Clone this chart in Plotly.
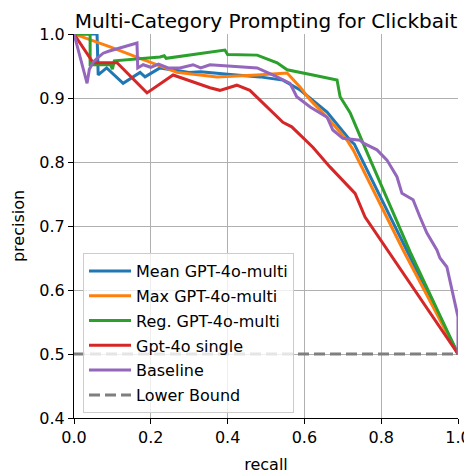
import plotly.graph_objects as go

# ---- data ----
mean_x = [0, 0.06, 0.063, 0.085, 0.128, 0.172, 0.185, 0.224, 0.30, 0.33, 0.40, 0.484, 0.544, 0.589, 0.659, 0.719, 0.73, 1.0]
mean_y = [1.0, 1.0, 0.936, 0.947, 0.923, 0.94, 0.933, 0.947, 0.94, 0.941, 0.937, 0.933, 0.928, 0.9125, 0.878, 0.834, 0.828, 0.5]

max_x = [0, 0.094, 0.172, 0.268, 0.328, 0.372, 0.477, 0.555, 0.589, 0.615, 0.659, 0.711, 0.727, 0.857, 1.0]
max_y = [1.0, 0.98, 0.962, 0.94, 0.936, 0.933, 0.936, 0.939, 0.917, 0.897, 0.87, 0.834, 0.819, 0.6625, 0.5]

reg_x = [0, 0.042, 0.042, 0.095, 0.1, 0.105, 0.224, 0.235, 0.24, 0.354, 0.393, 0.40, 0.477, 0.529, 0.555,
         0.622, 0.685, 0.693, 0.719, 0.753, 0.875, 1.0]
reg_y = [1.0, 1.0, 0.952, 0.952, 0.945, 0.958, 0.964, 0.966, 0.962, 0.972, 0.975, 0.968, 0.967, 0.955, 0.944,
         0.936, 0.928, 0.902, 0.877, 0.829, 0.66, 0.5]

single_x = [0, 0.05, 0.112, 0.19, 0.258, 0.354, 0.38, 0.424, 0.458, 0.544, 0.567, 0.622, 0.667, 0.732, 0.758, 1.0]
single_y = [1.0, 0.955, 0.955, 0.908, 0.936, 0.916, 0.912, 0.92, 0.912, 0.862, 0.855, 0.823, 0.792, 0.751, 0.714, 0.5]

base_x = [0, 0.034, 0.04, 0.05, 0.06, 0.076, 0.09, 0.12, 0.14, 0.164, 0.166, 0.18, 0.2, 0.22, 0.245, 0.276,
          0.31, 0.33, 0.354, 0.414, 0.477, 0.529, 0.5625, 0.58, 0.615, 0.659, 0.674, 0.7, 0.745, 0.755,
          0.789, 0.815, 0.841, 0.854, 0.883, 0.901, 0.919, 0.945, 0.953, 0.971, 0.987, 1.0, 1.0]
base_y = [1.0, 0.923, 0.945, 0.956, 0.962, 0.97, 0.973, 0.978, 0.982, 0.986, 0.947, 0.952, 0.948, 0.953,
          0.947, 0.947, 0.952, 0.947, 0.952, 0.949, 0.947, 0.933, 0.923, 0.902, 0.886, 0.87, 0.85, 0.837,
          0.834, 0.829, 0.819, 0.803, 0.777, 0.751, 0.741, 0.714, 0.689, 0.6625, 0.65, 0.636, 0.595, 0.558, 0.5]

lower_x = [0, 1]
lower_y = [0.5, 0.5]

x_ticks = [0.0, 0.2, 0.4, 0.6, 0.8, 1.0]
y_ticks = [0.4, 0.5, 0.6, 0.7, 0.8, 0.9, 1.0]

series = [
    ("Mean GPT-4o-multi", mean_x, mean_y, "#1f77b4", "solid"),
    ("Max GPT-4o-multi", max_x, max_y, "#ff7f0e", "solid"),
    ("Reg. GPT-4o-multi", reg_x, reg_y, "#2ca02c", "solid"),
    ("Gpt-4o single", single_x, single_y, "#d62728", "solid"),
    ("Baseline", base_x, base_y, "#9467bd", "solid"),
    ("Lower Bound", lower_x, lower_y, "#7f7f7f", "11px,5px"),
]

fig = go.Figure()
for i, (name, xs, ys, color, dash) in enumerate(series):
    fig.add_trace(go.Scatter(
        x=xs, y=ys, mode="lines", name=name, legendgroup=f"g{i}",
        line=dict(color=color, width=3, dash=dash),
    ))

# The page body has an 8px default margin, so the figure is sized/offset to compensate.
W, H = 464, 466
font = "DejaVu Sans, Noto Sans, sans-serif"
fig.update_layout(
    width=W, height=H,
    margin=dict(l=66, r=14, t=26, b=56, autoexpand=False),
    paper_bgcolor="white", plot_bgcolor="white",
    font=dict(family=font, size=16, color="black"),
    title=dict(text="Multi-Category Prompting for Clickbait", x=0.5, xref="paper",
               y=1 - 13 / H, yref="container", yanchor="middle", xanchor="center",
               font=dict(size=20, color="black")),
    showlegend=True,
    legend=dict(x=9 / 384, y=5 / 384, xanchor="left", yanchor="bottom",
                bgcolor="rgba(255,255,255,0.8)", bordercolor="#cccccc", borderwidth=1,
                font=dict(size=16), traceorder="grouped", tracegroupgap=1, itemwidth=42),
)
fig.update_xaxes(range=[0, 1], tickvals=x_ticks, tickformat=".1f", showgrid=True, gridcolor="#b0b0b0",
                 gridwidth=1, showline=True, linecolor="black", linewidth=1.2, ticks="outside",
                 ticklen=5, tickwidth=1.2, tickcolor="black", zeroline=False, automargin=False,
                 title=dict(text="recall", standoff=12, font=dict(size=16)))
fig.update_yaxes(range=[0.4, 1.0], tickvals=y_ticks, tickformat=".1f", showgrid=True, gridcolor="#b0b0b0",
                 gridwidth=1, showline=True, linecolor="black", linewidth=1.2, ticks="outside",
                 ticklen=5, tickwidth=1.2, tickcolor="black", zeroline=False, automargin=False,
                 title=dict(text="precision", standoff=10, font=dict(size=16)))

fig.write_html("out.html")
